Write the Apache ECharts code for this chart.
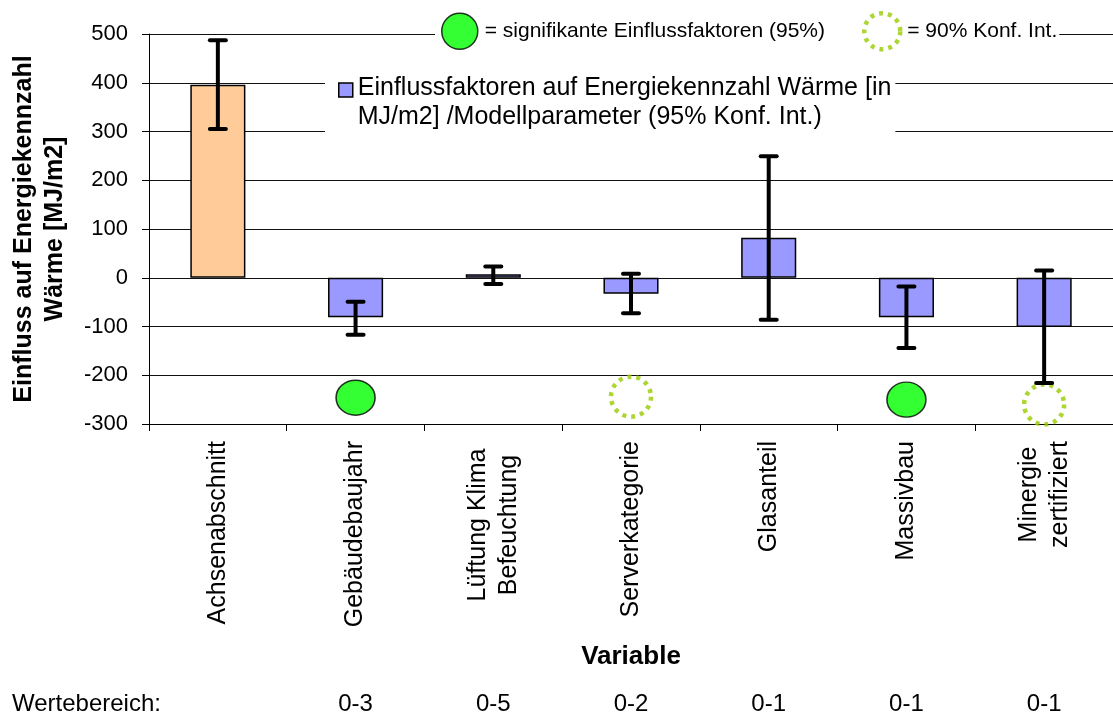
<!DOCTYPE html>
<html><head><meta charset="utf-8">
<script src="https://cdn.jsdelivr.net/npm/echarts@6/dist/echarts.min.js"></script>
<style>html,body{margin:0;padding:0;background:#fff}#c{width:1113px;height:718px}</style>
</head><body><div id="c"></div>
<script>
// ---- data ----
const categories = ['Achsenabschnitt', 'Gebäudebaujahr', 'Lüftung Klima\nBefeuchtung', 'Serverkategorie', 'Glasanteil', 'Massivbau', 'Minergie\nzertifiziert'];
const valueRanges = ['', '0-3', '0-5', '0-2', '0-1', '0-1', '0-1'];
const estimates = [396, -81, 7, -33, 82, -81, -101];
const ciLower = [305, -117, -13, -73, -86, -144, -216];
const ciUpper = [487, -49, 23, 8, 249, -18, 15];
const sig95 = [null, -246, null, null, null, -250, null];
const sig90 = [null, null, null, -244, null, null, -260];
const yMin = -300, yMax = 500, yStep = 100;

const barName = 'Einflussfaktoren auf Energiekennzahl Wärme [in MJ/m2] /Modellparameter (95% Konf. Int.)';
const n95 = '= signifikante Einflussfaktoren (95%)';
const n90 = '= 90% Konf. Int.';
const FONT = 'Liberation Sans, Arial, sans-serif';

const chart = echarts.init(document.getElementById('c'), null, {renderer: 'canvas'});

const errData = categories.map((c, i) => [i, ciLower[i], ciUpper[i]]);
const barData = estimates.map((v, i) => i === 0 ? {value: v, itemStyle: {color: '#FFCC99'}} : v);

const dashedStyle = {color: 'rgba(0,0,0,0)', borderColor: '#99CC00', borderWidth: 4.5, borderType: [4, 5]};

chart.setOption({
  animation: false,
  backgroundColor: '#fff',
  textStyle: {fontFamily: FONT, color: '#000'},
  grid: {left: 149, top: 34, width: 970, height: 390, containLabel: false},
  legend: [
    {
      data: [
        {name: n95, icon: 'circle', itemStyle: {color: '#00FF00', borderColor: '#000', borderWidth: 1.5}},
        {name: n90, icon: 'circle', itemStyle: dashedStyle}
      ],
      left: 435, top: 6, itemWidth: 40, itemHeight: 36, itemGap: 37,
      selectedMode: false,
      textStyle: {fontFamily: FONT, fontSize: 21, color: '#000'},
      backgroundColor: '#fff', padding: [5, 2, 5, 6]
    },
    {
      data: [{name: barName, icon: 'path://M0,0h14v14h-14z M14,40', itemStyle: {color: '#9999FF', borderColor: '#000', borderWidth: 1.5}}],
      formatter: () => 'Einflussfaktoren auf Energiekennzahl Wärme [in\nMJ/m2] /Modellparameter (95% Konf. Int.)',
      left: 325, top: 66, itemWidth: 14, itemHeight: 40,
      selectedMode: false,
      textStyle: {fontFamily: FONT, fontSize: 25, lineHeight: 29, color: '#000'},
      backgroundColor: '#fff', padding: [8, 4, 6, 13]
    }
  ],
  xAxis: [
    {
      type: 'category', data: categories, position: 'bottom',
      axisLine: {onZero: false, lineStyle: {color: '#000', width: 1}},
      axisTick: {show: true, length: 7, lineStyle: {color: '#000'}},
      axisLabel: {
        rotate: 90, fontSize: 25, color: '#000', fontFamily: FONT, margin: 17, interval: 0,
        formatter: (v) => {
          if (v.indexOf('Lüftung') === 0) return '{a|Lüftung Klima}\n{a|Befeuchtung}';
          if (v.indexOf('Minergie') === 0) return '{b|Minergie}\n{b|zertifiziert}';
          return v;
        },
        rich: {
          a: {width: 168, align: 'center', fontSize: 25, lineHeight: 31, fontFamily: FONT, color: '#000'},
          b: {width: 107, align: 'center', fontSize: 25, lineHeight: 31, fontFamily: FONT, color: '#000'}
        }
      },
      name: 'Variable', nameLocation: 'middle', nameGap: 220,
      nameTextStyle: {fontSize: 26, fontWeight: 'bold', fontFamily: FONT, color: '#000', verticalAlign: 'top'}
    },
    {
      type: 'category', data: categories, position: 'bottom', offset: 268,
      axisLine: {show: false}, axisTick: {show: false},
      axisLabel: {fontSize: 24, color: '#000', fontFamily: FONT, margin: 0, interval: 0,
        formatter: (v, i) => valueRanges[i]}
    }
  ],
  yAxis: {
    type: 'value', min: yMin, max: yMax, interval: yStep,
    axisLine: {show: true, lineStyle: {color: '#000'}},
    axisTick: {show: true, length: 7, lineStyle: {color: '#000'}},
    axisLabel: {fontSize: 22, color: '#000', fontFamily: FONT, margin: 21},
    splitLine: {show: true, lineStyle: {color: '#111', width: 1}},
    name: 'Einfluss auf Energiekennzahl\nWärme [MJ/m2]', nameLocation: 'middle', nameGap: 78,
    nameTextStyle: {fontSize: 25, fontWeight: 'bold', fontFamily: FONT, color: '#000', lineHeight: 31}
  },
  graphic: [
    {type: 'text', left: 12, top: 692, style: {text: 'Wertebereich:', font: '24px ' + FONT, fill: '#000'}}
  ],
  series: [
    {
      name: barName, type: 'bar', data: barData, barWidth: '40%', z: 2,
      itemStyle: {color: '#9999FF', borderColor: '#000', borderWidth: 1.5}
    },
    {
      name: 'CI', type: 'custom', data: errData, z: 5,
      renderItem: (params, api) => {
        const x = api.value(0);
        const lo = api.coord([x, api.value(1)]);
        const hi = api.coord([x, api.value(2)]);
        const cap = 8;
        const st = {stroke: '#000', lineWidth: 4, lineCap: 'round'};
        return {type: 'group', children: [
          {type: 'line', shape: {x1: lo[0], y1: lo[1], x2: hi[0], y2: hi[1]}, style: {stroke: '#000', lineWidth: 4}},
          {type: 'line', shape: {x1: lo[0] - cap, y1: lo[1], x2: lo[0] + cap, y2: lo[1]}, style: st},
          {type: 'line', shape: {x1: hi[0] - cap, y1: hi[1], x2: hi[0] + cap, y2: hi[1]}, style: st}
        ]};
      }
    },
    {
      name: n95, type: 'scatter', data: sig95, symbol: 'circle', symbolSize: [39, 35], z: 4,
      itemStyle: {color: '#00FF00', borderColor: '#000', borderWidth: 1.5}
    },
    {
      name: n90, type: 'scatter', data: sig90, symbol: 'circle', symbolSize: 40, z: 3,
      itemStyle: dashedStyle
    }
  ]
});
</script></body></html>
